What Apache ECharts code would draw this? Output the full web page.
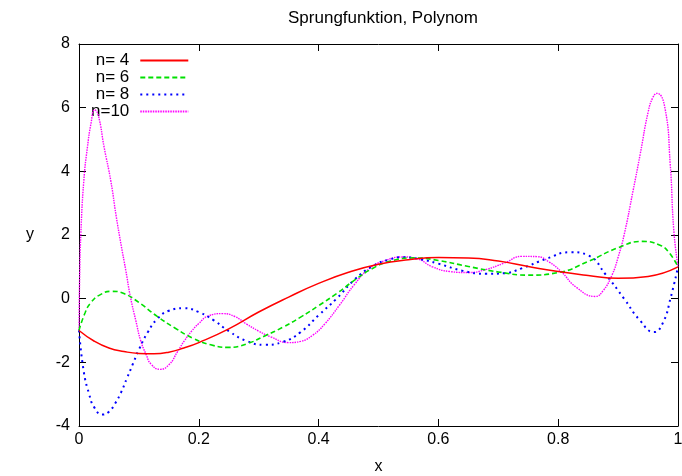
<!DOCTYPE html>
<html>
<head>
<meta charset="utf-8">
<script src="https://cdn.jsdelivr.net/npm/echarts@6/dist/echarts.min.js"></script>
<style>html,body{margin:0;padding:0;background:#fff;}#c{width:682px;height:476px;}</style>
</head>
<body>
<div id="c"></div>
<script>
const title = 'Sprungfunktion, Polynom';
const xName = 'x';
const yName = 'y';
const seriesNames = ['n= 4', 'n= 6', 'n= 8', 'n=10'];

const x4 = [0, 0.025, 0.05, 0.075, 0.1, 0.125, 0.15, 0.175, 0.2, 0.25, 0.3, 0.35, 0.4, 0.45, 0.5, 0.55, 0.6, 0.65, 0.7, 0.75, 0.8, 0.85, 0.9, 0.95, 1];
const y4 = [-1, -1.33, -1.55, -1.66, -1.72, -1.73, -1.68, -1.55, -1.38, -0.95, -0.42, 0.05, 0.48, 0.83, 1.08, 1.22, 1.29, 1.28, 1.18, 1.01, 0.85, 0.73, 0.64, 0.70, 1.0];

const x6 = [0, 0.01, 0.02, 0.035, 0.055, 0.075, 0.1, 0.13, 0.16, 0.19, 0.22, 0.25, 0.28, 0.31, 0.34, 0.37, 0.4, 0.43, 0.46, 0.49, 0.52, 0.56, 0.6, 0.65, 0.7, 0.75, 0.8, 0.85, 0.9, 0.94, 0.97, 0.985, 1];
const y6 = [-1, -0.45, -0.12, 0.12, 0.23, 0.16, -0.12, -0.55, -0.92, -1.24, -1.45, -1.53, -1.42, -1.17, -0.9, -0.58, -0.22, 0.16, 0.58, 0.95, 1.18, 1.28, 1.2, 1.01, 0.84, 0.74, 0.82, 1.17, 1.6, 1.8, 1.68, 1.45, 1.0];

const x8 = [0, 0.008, 0.017, 0.025, 0.039, 0.05, 0.06, 0.07, 0.08, 0.09, 0.1, 0.115, 0.13, 0.15, 0.175, 0.2, 0.225, 0.25, 0.28, 0.31, 0.34, 0.37, 0.4, 0.43, 0.46, 0.49, 0.52, 0.54, 0.57, 0.6, 0.64, 0.68, 0.71, 0.74, 0.78, 0.82, 0.85, 0.88, 0.91, 0.935, 0.96, 0.975, 0.988, 1];
const y8 = [-1, -2.3, -3.0, -3.4, -3.64, -3.55, -3.3, -2.95, -2.5, -2.05, -1.6, -1.05, -0.65, -0.38, -0.3, -0.42, -0.68, -1.02, -1.33, -1.45, -1.36, -1.05, -0.52, 0.0, 0.6, 1.02, 1.24, 1.3, 1.24, 1.1, 0.88, 0.78, 0.8, 0.96, 1.25, 1.46, 1.36, 0.74, 0.0, -0.65, -1.05, -0.75, 0.05, 1.0];

const x10 = [0, 0.001, 0.003, 0.008, 0.014, 0.02, 0.026, 0.032, 0.042, 0.053, 0.062, 0.07, 0.078, 0.086, 0.095, 0.103, 0.112, 0.12, 0.135, 0.15, 0.165, 0.176, 0.188, 0.2, 0.215, 0.24, 0.26, 0.28, 0.3, 0.32, 0.35, 0.37, 0.39, 0.41, 0.435, 0.46, 0.485, 0.51, 0.54, 0.565, 0.59, 0.62, 0.65, 0.68, 0.71, 0.74, 0.765, 0.785, 0.805, 0.83, 0.862, 0.875, 0.89, 0.9, 0.91, 0.925, 0.937, 0.95, 0.958, 0.965, 0.978, 0.987, 0.993, 1];
const y10 = [-1, 0.6, 2.0, 3.7, 4.75, 5.5, 5.93, 5.78, 4.75, 3.71, 2.6, 1.72, 0.9, 0.04, -0.7, -1.32, -1.75, -2.05, -2.22, -2.08, -1.65, -1.32, -1.02, -0.78, -0.55, -0.47, -0.56, -0.8, -1.02, -1.2, -1.38, -1.34, -1.15, -0.8, -0.2, 0.45, 0.95, 1.19, 1.31, 1.25, 1.0, 0.85, 0.82, 0.92, 1.12, 1.33, 1.32, 1.15, 0.85, 0.36, 0.07, 0.25, 0.75, 1.3, 2.0, 3.39, 4.55, 5.85, 6.32, 6.45, 6.01, 4.23, 2.14, 1.0];

const xTickValues = [0, 0.2, 0.4, 0.6, 0.8, 1];
const yTickValues = [-4, -2, 0, 2, 4, 6, 8];

function pairs(xs, ys) { return xs.map((x, i) => [x, ys[i]]); }

const FONT = 'Liberation Sans, Arial, Helvetica, sans-serif';
const FS = 16;
const chart = echarts.init(document.getElementById('c'), null, {renderer: 'canvas'});

function tick() { return {show: true, inside: true, length: 7, lineStyle: {color: '#000', width: 1}}; }
function line() { return {show: true, onZero: false, lineStyle: {color: '#000', width: 1}}; }

const lineStyles = [
  {color: '#ff0000', width: 1.5, type: 'solid'},
  {color: '#00e000', width: 1.6, type: [5, 3]},
  {color: '#0000ff', width: 2, type: [2, 4]},
  {color: '#ff00ff', width: 1.4, type: [1.5, 1]}
];
const dataSets = [pairs(x4, y4), pairs(x6, y6), pairs(x8, y8), pairs(x10, y10)];

chart.setOption({
  animation: false,
  backgroundColor: '#fff',
  title: {
    text: title, left: 378, top: 5, textAlign: 'center',
    textStyle: {fontFamily: FONT, fontSize: 17, fontWeight: 'normal', color: '#000'}
  },
  legend: {
    orient: 'vertical', left: 91, top: 52, align: 'right', padding: 0,
    itemWidth: 48, itemHeight: 14, itemGap: 0,
    itemStyle: {opacity: 0},
    textStyle: {fontFamily: FONT, fontSize: 17, color: '#000', lineHeight: 16, padding: [0, 6, 0, 0]},
    data: seriesNames
  },
  grid: {left: 79, right: 4, top: 44, bottom: 50, containLabel: false, outerBoundsMode: 'none'},
  xAxis: [
    {
      type: 'value', min: 0, max: 1, interval: 0.2, position: 'bottom',
      axisLine: line(), axisTick: tick(), splitLine: {show: false},
      name: xName, nameLocation: 'middle', nameGap: 33,
      nameTextStyle: {fontFamily: FONT, fontSize: FS, color: '#000'},
      axisLabel: {fontFamily: FONT, fontSize: FS, color: '#000', margin: 6,
        formatter: v => xTickValues.some(t => Math.abs(t - v) < 1e-9) ? String(+v.toFixed(1)) : ''}
    },
    {
      type: 'value', min: 0, max: 1, interval: 0.2, position: 'top',
      axisLine: line(), axisTick: tick(), splitLine: {show: false},
      axisLabel: {show: false}
    }
  ],
  yAxis: [
    {
      type: 'value', min: -4, max: 8, interval: 2, position: 'left',
      axisLine: line(), axisTick: tick(), splitLine: {show: false},
      name: yName, nameLocation: 'middle', nameGap: 45, nameRotate: 0,
      nameTextStyle: {fontFamily: FONT, fontSize: FS, color: '#000'},
      axisLabel: {fontFamily: FONT, fontSize: FS, color: '#000', margin: 9,
        formatter: v => yTickValues.includes(v) ? String(v) : ''}
    },
    {
      type: 'value', min: -4, max: 8, interval: 2, position: 'right',
      axisLine: line(), axisTick: tick(), splitLine: {show: false},
      axisLabel: {show: false}
    }
  ],
  series: seriesNames.map((name, i) => ({
    name: name, type: 'line', xAxisIndex: 0, yAxisIndex: 0,
    data: dataSets[i], showSymbol: false, symbol: 'none',
    smooth: 0.5,
    lineStyle: lineStyles[i], itemStyle: {color: lineStyles[i].color},
    z: 10 - i
  }))
});
</script>
</body>
</html>
